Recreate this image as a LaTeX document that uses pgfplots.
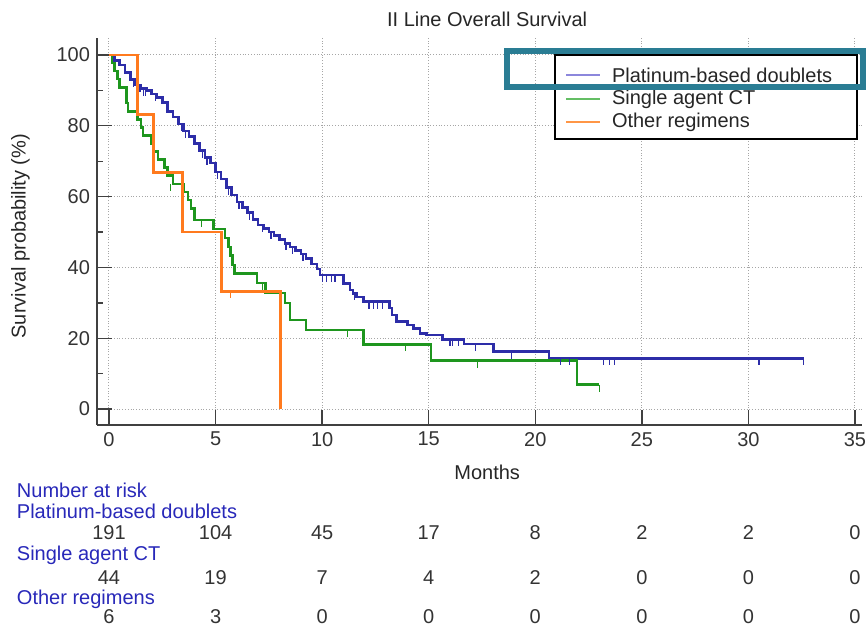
\documentclass[border=0pt]{standalone}
\usepackage{fontspec}
\setmainfont{Liberation Sans}
\usepackage{pgfplots}
\pgfplotsset{compat=1.18}
\usepackage{pgfplotstable}

\definecolor{kmblue}{RGB}{45,45,168}
\definecolor{kmgreen}{RGB}{30,150,30}
\definecolor{kmorange}{RGB}{255,122,30}
\definecolor{lgblue}{RGB}{140,135,220}
\definecolor{lggreen}{RGB}{100,190,100}
\definecolor{lgorange}{RGB}{255,150,70}
\definecolor{tabblue}{RGB}{40,40,185}
\definecolor{annot}{RGB}{42,125,148}

\pgfdeclareplotmark{cens}{%
  \pgfpathmoveto{\pgfpointorigin}%
  \pgfpathlineto{\pgfpoint{0pt}{-\pgfplotmarksize}}%
  \pgfusepathqstroke}

\pgfplotstableread{
m p
0 100
0.25 98.5
0.5 97.2
0.75 95
1.0 93
1.25 91.5
1.5 90.5
1.75 90
2.0 89
2.25 88
2.5 86.5
2.75 84
3.0 82.5
3.25 80.5
3.5 78.5
3.75 77
4.0 75
4.25 73
4.5 71
4.75 69.5
5.0 67
5.25 65
5.5 62.5
5.75 60.5
6.0 58.5
6.25 57
6.5 55.5
6.75 53.5
7.0 52
7.25 51
7.5 50
7.75 49
8.0 47.8
8.25 46.8
8.5 45.8
8.75 44.8
9.0 43.8
9.25 42.5
9.5 41
9.75 39.5
9.9 37.9
11.0 35.5
11.3 33.6
11.45 32.7
11.6 31.6
11.94 30.3
13.15 28.5
13.27 26.6
13.5 24.7
14.0 23.7
14.3 22.8
14.6 21.4
14.9 20.9
15.65 19.7
16.65 18.4
18.05 16.2
20.65 14.3
32.6 14.3
}\platinum

\pgfplotstableread{
m p
1.15 93
1.45 91.5
1.6 90.5
1.7 90.5
2.2 89
3.4 80.5
3.6 78.5
4.4 73
4.6 71
5.1 67
5.6 62.5
6.1 58.5
6.6 55.5
7.2 52
7.6 50
8.3 46.8
8.6 45.8
9.1 43.8
10.0 37.9
10.2 37.9
10.45 37.9
10.6 37.9
11.5 32.7
12.2 30.3
12.4 30.3
12.6 30.3
12.85 30.3
16.0 19.7
16.1 19.7
16.4 19.7
17.2 18.4
18.9 16.2
21.2 14.3
21.6 14.3
23.2 14.3
23.5 14.3
23.7 14.3
30.5 14.3
32.6 14.3
}\platinumcens

\pgfplotstableread{
m p
0 100
0.15 97.7
0.25 95.5
0.4 93.2
0.5 90.9
0.83 86.4
0.9 84.1
1.35 81.8
1.5 79.5
1.6 77.3
2.0 75.0
2.1 72.7
2.3 70.5
2.6 68.2
2.75 65.9
3.0 63.6
3.5 61.3
3.7 59.0
3.85 56.7
4.0 53.4
4.9 50.8
5.45 48.3
5.6 45.8
5.7 43.3
5.8 40.7
5.9 38.2
6.95 35.6
7.35 32.8
8.25 29.9
8.5 25.1
9.25 22.3
11.95 18.3
15.1 13.7
21.95 6.9
23.0 6.9
}\single

\pgfplotstableread{
m p
2.9 63.6
4.35 53.4
7.2 35.6
11.2 22.3
13.9 18.3
17.3 13.7
23.0 6.9
}\singlecens

\pgfplotstableread{
m p
0 100
1.33 83.3
2.08 66.7
3.44 50
5.26 33.3
8.03 0
}\other

\pgfplotstableread{
m p
5.7 33.3
}\othercens

\begin{document}
\begin{tikzpicture}
\useasboundingbox (0pt,0pt) rectangle (433.5pt,314.5pt);
\begin{axis}[
  at={(48.5pt,102pt)}, anchor=south west,
  scale only axis, width=382.5pt, height=193.5pt,
  xmin=-0.563, xmax=35.33, ymin=-4.52, ymax=104.8,
  axis lines=left,
  axis line style={-, draw=black!75, line width=0.8pt},
  xtick={0,5,...,35}, ytick={0,20,...,100},
  minor ytick={10,30,...,90},
  tick align=inside,
  major tick length=7.5pt, minor tick length=3pt,
  tick style={black!75, line width=0.7pt},
  grid=major,
  major grid style={densely dotted, black!35, line width=0.5pt},
  /pgf/number format/assume math mode=true,
  ticklabel style={font=\fontsize{10}{12}\selectfont, text=black!80},
  xlabel={Months},
  xlabel style={at={(0.51,-0.122)}, anchor=center, font=\fontsize{10}{12}\selectfont, text=black!85},
  ylabel={Survival probability (\%)},
  ylabel style={at={(-0.1,0.488)}, anchor=center, font=\fontsize{10}{12}\selectfont, text=black!85},
  clip=false,
]
\addplot[const plot, color=kmblue, line width=1.3pt] table[x=m,y=p]{\platinum};
\addplot[const plot, color=kmgreen, line width=1.3pt] table[x=m,y=p]{\single};
\addplot[const plot, color=kmorange, line width=1.4pt] table[x=m,y=p]{\other};
\addplot[only marks, mark=cens, mark size=3.5pt, color=kmblue, mark options={line width=0.6pt}] table[x=m,y=p]{\platinumcens};
\addplot[only marks, mark=cens, mark size=3.5pt, color=kmgreen, mark options={line width=0.6pt}] table[x=m,y=p]{\singlecens};
\addplot[only marks, mark=cens, mark size=3.5pt, color=kmorange, mark options={line width=0.6pt}] table[x=m,y=p]{\othercens};

\node[font=\fontsize{10}{12}\selectfont, text=black!85] at (rel axis cs:0.51,1.048) {II Line Overall Survival};

% number at risk table
\node[anchor=west, text=tabblue, font=\fontsize{10}{12}\selectfont] at (axis cs:-4.65,-22.9) {Number at risk};
\node[anchor=west, text=tabblue, font=\fontsize{10}{12}\selectfont] at (axis cs:-4.65,-28.8) {Platinum-based doublets};
\node[anchor=west, text=tabblue, font=\fontsize{10}{12}\selectfont] at (axis cs:-4.65,-41.2) {Single agent CT};
\node[anchor=west, text=tabblue, font=\fontsize{10}{12}\selectfont] at (axis cs:-4.65,-53.8) {Other regimens};
\node[text=black!80, font=\fontsize{10}{12}\selectfont] at (axis cs:0,-35.0) {191};
\node[text=black!80, font=\fontsize{10}{12}\selectfont] at (axis cs:5,-35.0) {104};
\node[text=black!80, font=\fontsize{10}{12}\selectfont] at (axis cs:10,-35.0) {45};
\node[text=black!80, font=\fontsize{10}{12}\selectfont] at (axis cs:15,-35.0) {17};
\node[text=black!80, font=\fontsize{10}{12}\selectfont] at (axis cs:20,-35.0) {8};
\node[text=black!80, font=\fontsize{10}{12}\selectfont] at (axis cs:25,-35.0) {2};
\node[text=black!80, font=\fontsize{10}{12}\selectfont] at (axis cs:30,-35.0) {2};
\node[text=black!80, font=\fontsize{10}{12}\selectfont] at (axis cs:35,-35.0) {0};
\node[text=black!80, font=\fontsize{10}{12}\selectfont] at (axis cs:0,-47.7) {44};
\node[text=black!80, font=\fontsize{10}{12}\selectfont] at (axis cs:5,-47.7) {19};
\node[text=black!80, font=\fontsize{10}{12}\selectfont] at (axis cs:10,-47.7) {7};
\node[text=black!80, font=\fontsize{10}{12}\selectfont] at (axis cs:15,-47.7) {4};
\node[text=black!80, font=\fontsize{10}{12}\selectfont] at (axis cs:20,-47.7) {2};
\node[text=black!80, font=\fontsize{10}{12}\selectfont] at (axis cs:25,-47.7) {0};
\node[text=black!80, font=\fontsize{10}{12}\selectfont] at (axis cs:30,-47.7) {0};
\node[text=black!80, font=\fontsize{10}{12}\selectfont] at (axis cs:35,-47.7) {0};
\node[text=black!80, font=\fontsize{10}{12}\selectfont] at (axis cs:0,-58.6) {6};
\node[text=black!80, font=\fontsize{10}{12}\selectfont] at (axis cs:5,-58.6) {3};
\node[text=black!80, font=\fontsize{10}{12}\selectfont] at (axis cs:10,-58.6) {0};
\node[text=black!80, font=\fontsize{10}{12}\selectfont] at (axis cs:15,-58.6) {0};
\node[text=black!80, font=\fontsize{10}{12}\selectfont] at (axis cs:20,-58.6) {0};
\node[text=black!80, font=\fontsize{10}{12}\selectfont] at (axis cs:25,-58.6) {0};
\node[text=black!80, font=\fontsize{10}{12}\selectfont] at (axis cs:30,-58.6) {0};
\node[text=black!80, font=\fontsize{10}{12}\selectfont] at (axis cs:35,-58.6) {0};
\end{axis}
% legend
\draw[black, line width=0.8pt, fill=white] (277.5pt,245pt) rectangle (428.5pt,287pt);
\draw[lgblue, line width=0.7pt] (283pt,277pt) -- (300pt,277pt);
\draw[lggreen, line width=0.7pt] (283pt,265pt) -- (300pt,265pt);
\draw[lgorange, line width=0.7pt] (283pt,253.5pt) -- (300pt,253.5pt);
\node[anchor=west, inner sep=0pt, font=\fontsize{10}{12}\selectfont, text=black!85] at (305.8pt,277pt) {Platinum-based doublets};
\node[anchor=west, inner sep=0pt, font=\fontsize{10}{12}\selectfont, text=black!85] at (305.8pt,265pt) {Single agent CT};
\node[anchor=west, inner sep=0pt, font=\fontsize{10}{12}\selectfont, text=black!85] at (305.8pt,253.5pt) {Other regimens};
\draw[annot, line width=2.75pt] (253.5pt,271pt) rectangle (431.5pt,289pt);
\end{tikzpicture}
\end{document}
